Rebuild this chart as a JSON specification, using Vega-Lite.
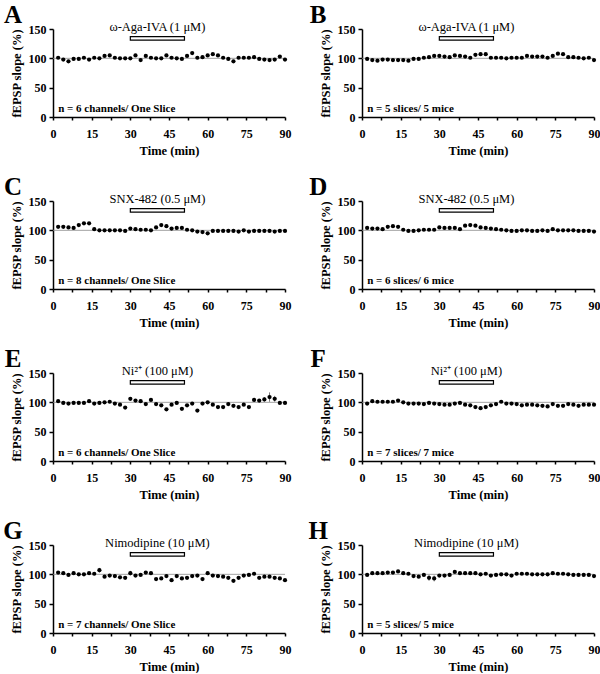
{
"$schema": "https://vega.github.io/schema/vega-lite/v6.json",
"padding": {"left": 3, "top": 2, "right": 5, "bottom": 0},
"background": "white",
"data": {"values": [
{"p":"A","L":"A","d":"ω-Aga-IVA (1 μM)","n":"n = 6 channels/ One Slice"},
{"p":"B","L":"B","d":"ω-Aga-IVA (1 μM)","n":"n = 5 slices/ 5 mice"},
{"p":"C","L":"C","d":"SNX-482 (0.5 μM)","n":"n = 8 channels/ One Slice"},
{"p":"D","L":"D","d":"SNX-482 (0.5 μM)","n":"n = 6 slices/ 6 mice"},
{"p":"E","L":"E","d":"Ni²⁺ (100 μM)","n":"n = 6 channels/ One Slice"},
{"p":"F","L":"F","d":"Ni²⁺ (100 μM)","n":"n = 7 slices/ 7 mice"},
{"p":"G","L":"G","d":"Nimodipine (10 μM)","n":"n = 7 channels/ One Slice"},
{"p":"H","L":"H","d":"Nimodipine (10 μM)","n":"n = 5 slices/ 5 mice"},
{"p":"E","t":84,"lo":101,"hi":117},{"p":"E","t":82,"lo":101,"hi":109},{"p":"E","t":86,"lo":101,"hi":111},
{"p":"H","t":26,"lo":89,"hi":99},{"p":"H","t":28,"lo":88,"hi":98},
{"p":"G","t":18,"lo":103,"hi":111},{"p":"G","t":30,"lo":98,"hi":106},
{"p":"A","t":2,"v":101},{"p":"A","t":4,"v":98},{"p":"A","t":6,"v":95},{"p":"A","t":8,"v":99},{"p":"A","t":10,"v":99},{"p":"A","t":12,"v":101},{"p":"A","t":14,"v":98},{"p":"A","t":16,"v":101},{"p":"A","t":18,"v":100},{"p":"A","t":20,"v":104},{"p":"A","t":22,"v":105},{"p":"A","t":24,"v":101},{"p":"A","t":26,"v":100},{"p":"A","t":28,"v":100},{"p":"A","t":30,"v":100},{"p":"A","t":32,"v":105},{"p":"A","t":34,"v":97},{"p":"A","t":36,"v":104},{"p":"A","t":38,"v":101},{"p":"A","t":40,"v":100},{"p":"A","t":42,"v":100},{"p":"A","t":44,"v":105},{"p":"A","t":46,"v":101},{"p":"A","t":48,"v":100},{"p":"A","t":50,"v":99},{"p":"A","t":52,"v":104},{"p":"A","t":54,"v":109},{"p":"A","t":56,"v":101},{"p":"A","t":58,"v":102},{"p":"A","t":60,"v":105},{"p":"A","t":62,"v":107},{"p":"A","t":64,"v":105},{"p":"A","t":66,"v":101},{"p":"A","t":68,"v":99},{"p":"A","t":70,"v":95},{"p":"A","t":72,"v":101},{"p":"A","t":74,"v":101},{"p":"A","t":76,"v":101},{"p":"A","t":78,"v":102},{"p":"A","t":80,"v":99},{"p":"A","t":82,"v":98},{"p":"A","t":84,"v":97},{"p":"A","t":86,"v":98},{"p":"A","t":88,"v":103},{"p":"A","t":90,"v":98},
{"p":"B","t":2,"v":99},{"p":"B","t":4,"v":97},{"p":"B","t":6,"v":96},{"p":"B","t":8,"v":98},{"p":"B","t":10,"v":98},{"p":"B","t":12,"v":97},{"p":"B","t":14,"v":97},{"p":"B","t":16,"v":97},{"p":"B","t":18,"v":96},{"p":"B","t":20,"v":99},{"p":"B","t":22,"v":99},{"p":"B","t":24,"v":101},{"p":"B","t":26,"v":102},{"p":"B","t":28,"v":104},{"p":"B","t":30,"v":104},{"p":"B","t":32,"v":103},{"p":"B","t":34,"v":102},{"p":"B","t":36,"v":105},{"p":"B","t":38,"v":104},{"p":"B","t":40,"v":103},{"p":"B","t":42,"v":101},{"p":"B","t":44,"v":106},{"p":"B","t":46,"v":107},{"p":"B","t":48,"v":107},{"p":"B","t":50,"v":101},{"p":"B","t":52,"v":101},{"p":"B","t":54,"v":101},{"p":"B","t":56,"v":100},{"p":"B","t":58,"v":101},{"p":"B","t":60,"v":101},{"p":"B","t":62,"v":101},{"p":"B","t":64,"v":104},{"p":"B","t":66,"v":103},{"p":"B","t":68,"v":103},{"p":"B","t":70,"v":103},{"p":"B","t":72,"v":101},{"p":"B","t":74,"v":104},{"p":"B","t":76,"v":108},{"p":"B","t":78,"v":107},{"p":"B","t":80,"v":102},{"p":"B","t":82,"v":102},{"p":"B","t":84,"v":101},{"p":"B","t":86,"v":100},{"p":"B","t":88,"v":101},{"p":"B","t":90,"v":97},
{"p":"C","t":2,"v":106},{"p":"C","t":4,"v":106},{"p":"C","t":6,"v":105},{"p":"C","t":8,"v":104},{"p":"C","t":10,"v":109},{"p":"C","t":12,"v":112},{"p":"C","t":14,"v":112},{"p":"C","t":16,"v":102},{"p":"C","t":18,"v":100},{"p":"C","t":20,"v":100},{"p":"C","t":22,"v":100},{"p":"C","t":24,"v":100},{"p":"C","t":26,"v":100},{"p":"C","t":28,"v":99},{"p":"C","t":30,"v":103},{"p":"C","t":32,"v":102},{"p":"C","t":34,"v":101},{"p":"C","t":36,"v":101},{"p":"C","t":38,"v":100},{"p":"C","t":40,"v":105},{"p":"C","t":42,"v":109},{"p":"C","t":44,"v":107},{"p":"C","t":46,"v":103},{"p":"C","t":48,"v":104},{"p":"C","t":50,"v":104},{"p":"C","t":52,"v":101},{"p":"C","t":54,"v":100},{"p":"C","t":56,"v":98},{"p":"C","t":58,"v":97},{"p":"C","t":60,"v":95},{"p":"C","t":62,"v":99},{"p":"C","t":64,"v":99},{"p":"C","t":66,"v":99},{"p":"C","t":68,"v":99},{"p":"C","t":70,"v":99},{"p":"C","t":72,"v":98},{"p":"C","t":74,"v":100},{"p":"C","t":76,"v":98},{"p":"C","t":78,"v":99},{"p":"C","t":80,"v":99},{"p":"C","t":82,"v":99},{"p":"C","t":84,"v":99},{"p":"C","t":86,"v":98},{"p":"C","t":88,"v":99},{"p":"C","t":90,"v":99},
{"p":"D","t":2,"v":104},{"p":"D","t":4,"v":103},{"p":"D","t":6,"v":103},{"p":"D","t":8,"v":102},{"p":"D","t":10,"v":106},{"p":"D","t":12,"v":107},{"p":"D","t":14,"v":106},{"p":"D","t":16,"v":101},{"p":"D","t":18,"v":99},{"p":"D","t":20,"v":99},{"p":"D","t":22,"v":100},{"p":"D","t":24,"v":101},{"p":"D","t":26,"v":101},{"p":"D","t":28,"v":101},{"p":"D","t":30,"v":105},{"p":"D","t":32,"v":104},{"p":"D","t":34,"v":104},{"p":"D","t":36,"v":104},{"p":"D","t":38,"v":102},{"p":"D","t":40,"v":108},{"p":"D","t":42,"v":109},{"p":"D","t":44,"v":108},{"p":"D","t":46,"v":105},{"p":"D","t":48,"v":104},{"p":"D","t":50,"v":103},{"p":"D","t":52,"v":102},{"p":"D","t":54,"v":101},{"p":"D","t":56,"v":100},{"p":"D","t":58,"v":99},{"p":"D","t":60,"v":99},{"p":"D","t":62,"v":100},{"p":"D","t":64,"v":100},{"p":"D","t":66,"v":99},{"p":"D","t":68,"v":99},{"p":"D","t":70,"v":100},{"p":"D","t":72,"v":99},{"p":"D","t":74,"v":102},{"p":"D","t":76,"v":100},{"p":"D","t":78,"v":100},{"p":"D","t":80,"v":100},{"p":"D","t":82,"v":100},{"p":"D","t":84,"v":99},{"p":"D","t":86,"v":99},{"p":"D","t":88,"v":99},{"p":"D","t":90,"v":98},
{"p":"E","t":2,"v":102},{"p":"E","t":4,"v":99},{"p":"E","t":6,"v":98},{"p":"E","t":8,"v":99},{"p":"E","t":10,"v":99},{"p":"E","t":12,"v":99},{"p":"E","t":14,"v":102},{"p":"E","t":16,"v":98},{"p":"E","t":18,"v":99},{"p":"E","t":20,"v":100},{"p":"E","t":22,"v":101},{"p":"E","t":24,"v":98},{"p":"E","t":26,"v":96},{"p":"E","t":28,"v":91},{"p":"E","t":30,"v":106},{"p":"E","t":32,"v":103},{"p":"E","t":34,"v":102},{"p":"E","t":36,"v":97},{"p":"E","t":38,"v":104},{"p":"E","t":40,"v":97},{"p":"E","t":42,"v":95},{"p":"E","t":44,"v":88},{"p":"E","t":46,"v":96},{"p":"E","t":48,"v":99},{"p":"E","t":50,"v":89},{"p":"E","t":52,"v":95},{"p":"E","t":54,"v":98},{"p":"E","t":56,"v":86},{"p":"E","t":58,"v":98},{"p":"E","t":60,"v":100},{"p":"E","t":62,"v":96},{"p":"E","t":64,"v":92},{"p":"E","t":66,"v":92},{"p":"E","t":68,"v":97},{"p":"E","t":70,"v":94},{"p":"E","t":72,"v":92},{"p":"E","t":74,"v":96},{"p":"E","t":76,"v":92},{"p":"E","t":78,"v":104},{"p":"E","t":80,"v":103},{"p":"E","t":82,"v":105},{"p":"E","t":84,"v":109},{"p":"E","t":86,"v":106},{"p":"E","t":88,"v":99},{"p":"E","t":90,"v":99},
{"p":"F","t":2,"v":98},{"p":"F","t":4,"v":102},{"p":"F","t":6,"v":101},{"p":"F","t":8,"v":101},{"p":"F","t":10,"v":101},{"p":"F","t":12,"v":101},{"p":"F","t":14,"v":103},{"p":"F","t":16,"v":100},{"p":"F","t":18,"v":98},{"p":"F","t":20,"v":98},{"p":"F","t":22,"v":98},{"p":"F","t":24,"v":97},{"p":"F","t":26,"v":99},{"p":"F","t":28,"v":98},{"p":"F","t":30,"v":97},{"p":"F","t":32,"v":96},{"p":"F","t":34,"v":96},{"p":"F","t":36,"v":98},{"p":"F","t":38,"v":99},{"p":"F","t":40,"v":96},{"p":"F","t":42,"v":95},{"p":"F","t":44,"v":92},{"p":"F","t":46,"v":90},{"p":"F","t":48,"v":92},{"p":"F","t":50,"v":95},{"p":"F","t":52,"v":97},{"p":"F","t":54,"v":101},{"p":"F","t":56,"v":98},{"p":"F","t":58,"v":98},{"p":"F","t":60,"v":97},{"p":"F","t":62,"v":95},{"p":"F","t":64,"v":96},{"p":"F","t":66,"v":96},{"p":"F","t":68,"v":95},{"p":"F","t":70,"v":94},{"p":"F","t":72,"v":93},{"p":"F","t":74,"v":97},{"p":"F","t":76,"v":94},{"p":"F","t":78,"v":94},{"p":"F","t":80,"v":97},{"p":"F","t":82,"v":96},{"p":"F","t":84,"v":94},{"p":"F","t":86,"v":96},{"p":"F","t":88,"v":96},{"p":"F","t":90,"v":96},
{"p":"G","t":2,"v":103},{"p":"G","t":4,"v":102},{"p":"G","t":6,"v":99},{"p":"G","t":8,"v":102},{"p":"G","t":10,"v":100},{"p":"G","t":12,"v":100},{"p":"G","t":14,"v":102},{"p":"G","t":16,"v":101},{"p":"G","t":18,"v":107},{"p":"G","t":20,"v":96},{"p":"G","t":22,"v":98},{"p":"G","t":24,"v":97},{"p":"G","t":26,"v":95},{"p":"G","t":28,"v":94},{"p":"G","t":30,"v":102},{"p":"G","t":32,"v":98},{"p":"G","t":34,"v":99},{"p":"G","t":36,"v":103},{"p":"G","t":38,"v":102},{"p":"G","t":40,"v":92},{"p":"G","t":42,"v":93},{"p":"G","t":44,"v":97},{"p":"G","t":46,"v":90},{"p":"G","t":48,"v":97},{"p":"G","t":50,"v":93},{"p":"G","t":52,"v":94},{"p":"G","t":54,"v":97},{"p":"G","t":56,"v":98},{"p":"G","t":58,"v":92},{"p":"G","t":60,"v":102},{"p":"G","t":62,"v":98},{"p":"G","t":64,"v":97},{"p":"G","t":66,"v":96},{"p":"G","t":68,"v":94},{"p":"G","t":70,"v":89},{"p":"G","t":72,"v":94},{"p":"G","t":74,"v":98},{"p":"G","t":76,"v":99},{"p":"G","t":78,"v":101},{"p":"G","t":80,"v":94},{"p":"G","t":82,"v":96},{"p":"G","t":84,"v":96},{"p":"G","t":86,"v":94},{"p":"G","t":88,"v":93},{"p":"G","t":90,"v":90},
{"p":"H","t":2,"v":99},{"p":"H","t":4,"v":102},{"p":"H","t":6,"v":102},{"p":"H","t":8,"v":102},{"p":"H","t":10,"v":103},{"p":"H","t":12,"v":103},{"p":"H","t":14,"v":105},{"p":"H","t":16,"v":102},{"p":"H","t":18,"v":101},{"p":"H","t":20,"v":97},{"p":"H","t":22,"v":96},{"p":"H","t":24,"v":99},{"p":"H","t":26,"v":94},{"p":"H","t":28,"v":93},{"p":"H","t":30,"v":98},{"p":"H","t":32,"v":98},{"p":"H","t":34,"v":99},{"p":"H","t":36,"v":104},{"p":"H","t":38,"v":102},{"p":"H","t":40,"v":102},{"p":"H","t":42,"v":102},{"p":"H","t":44,"v":102},{"p":"H","t":46,"v":100},{"p":"H","t":48,"v":101},{"p":"H","t":50,"v":98},{"p":"H","t":52,"v":99},{"p":"H","t":54,"v":100},{"p":"H","t":56,"v":100},{"p":"H","t":58,"v":98},{"p":"H","t":60,"v":101},{"p":"H","t":62,"v":101},{"p":"H","t":64,"v":101},{"p":"H","t":66,"v":100},{"p":"H","t":68,"v":100},{"p":"H","t":70,"v":100},{"p":"H","t":72,"v":100},{"p":"H","t":74,"v":102},{"p":"H","t":76,"v":101},{"p":"H","t":78,"v":101},{"p":"H","t":80,"v":100},{"p":"H","t":82,"v":99},{"p":"H","t":84,"v":99},{"p":"H","t":86,"v":99},{"p":"H","t":88,"v":99},{"p":"H","t":90,"v":97}
]},
"columns": 2,
"spacing": {"row": 84, "column": 77},
"bounds": "flush",
"concat": [
{"transform": [{"filter": "datum.p === 'A'"}], "width": 232, "height": 88,
 "encoding": {"x": {"type": "quantitative", "scale": {"domain": [0, 90], "nice": false}, "axis": {"title": "Time (min)", "values": [0,7.5,15,22.5,30,37.5,45,52.5,60,67.5,75,82.5,90], "labelExpr": "datum.value % 15 === 0 ? datum.label : ''", "tickSize": 3, "labelPadding": 8, "titlePadding": 5, "labelFlush": false}}, "y": {"type": "quantitative", "scale": {"domain": [0, 150], "nice": false}, "axis": {"title": "fEPSP slope (%)", "values": [0, 50, 100, 150], "tickSize": 4, "labelPadding": 3, "titlePadding": 5}}},
 "layer": [
  {"transform": [{"filter": "isValid(datum.L)"}], "mark": {"type": "rule", "color": "#8a8a8a", "strokeWidth": 0.8}, "encoding": {"y": {"datum": 100}}},
  {"transform": [{"filter": "isValid(datum.L)"}], "mark": {"type": "rect", "fill": "white", "stroke": "black", "strokeWidth": 1.2}, "encoding": {"x": {"datum": 30}, "x2": {"datum": 51}, "y": {"datum": 131}, "y2": {"datum": 137}}},
  {"transform": [{"filter": "isValid(datum.L)"}], "mark": {"type": "text", "font": "Liberation Serif", "fontSize": 12.5, "align": "center", "baseline": "alphabetic", "color": "black"}, "encoding": {"x": {"datum": 40.5}, "y": {"datum": 146}, "text": {"field": "d"}}},
  {"transform": [{"filter": "isValid(datum.L)"}], "mark": {"type": "text", "font": "Liberation Serif", "fontSize": 11, "fontWeight": "bold", "align": "left", "baseline": "alphabetic", "color": "black"}, "encoding": {"x": {"datum": 2}, "y": {"datum": 9}, "text": {"field": "n"}}},
  {"transform": [{"filter": "isValid(datum.L)"}], "mark": {"type": "text", "font": "Liberation Serif", "fontSize": 25, "fontWeight": "bold", "align": "center", "baseline": "alphabetic", "color": "black"}, "encoding": {"x": {"datum": -15.5}, "y": {"datum": 161}, "text": {"field": "L"}}},
  {"transform": [{"filter": "isValid(datum.hi)"}], "mark": {"type": "rule", "color": "#555", "strokeWidth": 0.8}, "encoding": {"x": {"field": "t"}, "y": {"field": "lo"}, "y2": {"field": "hi"}}},
  {"transform": [{"filter": "isValid(datum.v)"}], "mark": {"type": "point", "filled": true, "color": "black", "size": 18, "opacity": 1}, "encoding": {"x": {"field": "t"}, "y": {"field": "v"}}}
 ]},
{"transform": [{"filter": "datum.p === 'B'"}], "width": 232, "height": 88,
 "encoding": {"x": {"type": "quantitative", "scale": {"domain": [0, 90], "nice": false}, "axis": {"title": "Time (min)", "values": [0,7.5,15,22.5,30,37.5,45,52.5,60,67.5,75,82.5,90], "labelExpr": "datum.value % 15 === 0 ? datum.label : ''", "tickSize": 3, "labelPadding": 8, "titlePadding": 5, "labelFlush": false}}, "y": {"type": "quantitative", "scale": {"domain": [0, 150], "nice": false}, "axis": {"title": "fEPSP slope (%)", "values": [0, 50, 100, 150], "tickSize": 4, "labelPadding": 3, "titlePadding": 5}}},
 "layer": [
  {"transform": [{"filter": "isValid(datum.L)"}], "mark": {"type": "rule", "color": "#8a8a8a", "strokeWidth": 0.8}, "encoding": {"y": {"datum": 100}}},
  {"transform": [{"filter": "isValid(datum.L)"}], "mark": {"type": "rect", "fill": "white", "stroke": "black", "strokeWidth": 1.2}, "encoding": {"x": {"datum": 30}, "x2": {"datum": 51}, "y": {"datum": 131}, "y2": {"datum": 137}}},
  {"transform": [{"filter": "isValid(datum.L)"}], "mark": {"type": "text", "font": "Liberation Serif", "fontSize": 12.5, "align": "center", "baseline": "alphabetic", "color": "black"}, "encoding": {"x": {"datum": 40.5}, "y": {"datum": 146}, "text": {"field": "d"}}},
  {"transform": [{"filter": "isValid(datum.L)"}], "mark": {"type": "text", "font": "Liberation Serif", "fontSize": 11, "fontWeight": "bold", "align": "left", "baseline": "alphabetic", "color": "black"}, "encoding": {"x": {"datum": 2}, "y": {"datum": 9}, "text": {"field": "n"}}},
  {"transform": [{"filter": "isValid(datum.L)"}], "mark": {"type": "text", "font": "Liberation Serif", "fontSize": 25, "fontWeight": "bold", "align": "center", "baseline": "alphabetic", "color": "black"}, "encoding": {"x": {"datum": -17}, "y": {"datum": 161}, "text": {"field": "L"}}},
  {"transform": [{"filter": "isValid(datum.hi)"}], "mark": {"type": "rule", "color": "#555", "strokeWidth": 0.8}, "encoding": {"x": {"field": "t"}, "y": {"field": "lo"}, "y2": {"field": "hi"}}},
  {"transform": [{"filter": "isValid(datum.v)"}], "mark": {"type": "point", "filled": true, "color": "black", "size": 18, "opacity": 1}, "encoding": {"x": {"field": "t"}, "y": {"field": "v"}}}
 ]},
{"transform": [{"filter": "datum.p === 'C'"}], "width": 232, "height": 88,
 "encoding": {"x": {"type": "quantitative", "scale": {"domain": [0, 90], "nice": false}, "axis": {"title": "Time (min)", "values": [0,7.5,15,22.5,30,37.5,45,52.5,60,67.5,75,82.5,90], "labelExpr": "datum.value % 15 === 0 ? datum.label : ''", "tickSize": 3, "labelPadding": 8, "titlePadding": 5, "labelFlush": false}}, "y": {"type": "quantitative", "scale": {"domain": [0, 150], "nice": false}, "axis": {"title": "fEPSP slope (%)", "values": [0, 50, 100, 150], "tickSize": 4, "labelPadding": 3, "titlePadding": 5}}},
 "layer": [
  {"transform": [{"filter": "isValid(datum.L)"}], "mark": {"type": "rule", "color": "#8a8a8a", "strokeWidth": 0.8}, "encoding": {"y": {"datum": 100}}},
  {"transform": [{"filter": "isValid(datum.L)"}], "mark": {"type": "rect", "fill": "white", "stroke": "black", "strokeWidth": 1.2}, "encoding": {"x": {"datum": 30}, "x2": {"datum": 51}, "y": {"datum": 131}, "y2": {"datum": 137}}},
  {"transform": [{"filter": "isValid(datum.L)"}], "mark": {"type": "text", "font": "Liberation Serif", "fontSize": 12.5, "align": "center", "baseline": "alphabetic", "color": "black"}, "encoding": {"x": {"datum": 40.5}, "y": {"datum": 146}, "text": {"field": "d"}}},
  {"transform": [{"filter": "isValid(datum.L)"}], "mark": {"type": "text", "font": "Liberation Serif", "fontSize": 11, "fontWeight": "bold", "align": "left", "baseline": "alphabetic", "color": "black"}, "encoding": {"x": {"datum": 2}, "y": {"datum": 9}, "text": {"field": "n"}}},
  {"transform": [{"filter": "isValid(datum.L)"}], "mark": {"type": "text", "font": "Liberation Serif", "fontSize": 25, "fontWeight": "bold", "align": "center", "baseline": "alphabetic", "color": "black"}, "encoding": {"x": {"datum": -15.5}, "y": {"datum": 161}, "text": {"field": "L"}}},
  {"transform": [{"filter": "isValid(datum.hi)"}], "mark": {"type": "rule", "color": "#555", "strokeWidth": 0.8}, "encoding": {"x": {"field": "t"}, "y": {"field": "lo"}, "y2": {"field": "hi"}}},
  {"transform": [{"filter": "isValid(datum.v)"}], "mark": {"type": "point", "filled": true, "color": "black", "size": 18, "opacity": 1}, "encoding": {"x": {"field": "t"}, "y": {"field": "v"}}}
 ]},
{"transform": [{"filter": "datum.p === 'D'"}], "width": 232, "height": 88,
 "encoding": {"x": {"type": "quantitative", "scale": {"domain": [0, 90], "nice": false}, "axis": {"title": "Time (min)", "values": [0,7.5,15,22.5,30,37.5,45,52.5,60,67.5,75,82.5,90], "labelExpr": "datum.value % 15 === 0 ? datum.label : ''", "tickSize": 3, "labelPadding": 8, "titlePadding": 5, "labelFlush": false}}, "y": {"type": "quantitative", "scale": {"domain": [0, 150], "nice": false}, "axis": {"title": "fEPSP slope (%)", "values": [0, 50, 100, 150], "tickSize": 4, "labelPadding": 3, "titlePadding": 5}}},
 "layer": [
  {"transform": [{"filter": "isValid(datum.L)"}], "mark": {"type": "rule", "color": "#8a8a8a", "strokeWidth": 0.8}, "encoding": {"y": {"datum": 100}}},
  {"transform": [{"filter": "isValid(datum.L)"}], "mark": {"type": "rect", "fill": "white", "stroke": "black", "strokeWidth": 1.2}, "encoding": {"x": {"datum": 30}, "x2": {"datum": 51}, "y": {"datum": 131}, "y2": {"datum": 137}}},
  {"transform": [{"filter": "isValid(datum.L)"}], "mark": {"type": "text", "font": "Liberation Serif", "fontSize": 12.5, "align": "center", "baseline": "alphabetic", "color": "black"}, "encoding": {"x": {"datum": 40.5}, "y": {"datum": 146}, "text": {"field": "d"}}},
  {"transform": [{"filter": "isValid(datum.L)"}], "mark": {"type": "text", "font": "Liberation Serif", "fontSize": 11, "fontWeight": "bold", "align": "left", "baseline": "alphabetic", "color": "black"}, "encoding": {"x": {"datum": 2}, "y": {"datum": 9}, "text": {"field": "n"}}},
  {"transform": [{"filter": "isValid(datum.L)"}], "mark": {"type": "text", "font": "Liberation Serif", "fontSize": 25, "fontWeight": "bold", "align": "center", "baseline": "alphabetic", "color": "black"}, "encoding": {"x": {"datum": -17}, "y": {"datum": 161}, "text": {"field": "L"}}},
  {"transform": [{"filter": "isValid(datum.hi)"}], "mark": {"type": "rule", "color": "#555", "strokeWidth": 0.8}, "encoding": {"x": {"field": "t"}, "y": {"field": "lo"}, "y2": {"field": "hi"}}},
  {"transform": [{"filter": "isValid(datum.v)"}], "mark": {"type": "point", "filled": true, "color": "black", "size": 18, "opacity": 1}, "encoding": {"x": {"field": "t"}, "y": {"field": "v"}}}
 ]},
{"transform": [{"filter": "datum.p === 'E'"}], "width": 232, "height": 88,
 "encoding": {"x": {"type": "quantitative", "scale": {"domain": [0, 90], "nice": false}, "axis": {"title": "Time (min)", "values": [0,7.5,15,22.5,30,37.5,45,52.5,60,67.5,75,82.5,90], "labelExpr": "datum.value % 15 === 0 ? datum.label : ''", "tickSize": 3, "labelPadding": 8, "titlePadding": 5, "labelFlush": false}}, "y": {"type": "quantitative", "scale": {"domain": [0, 150], "nice": false}, "axis": {"title": "fEPSP slope (%)", "values": [0, 50, 100, 150], "tickSize": 4, "labelPadding": 3, "titlePadding": 5}}},
 "layer": [
  {"transform": [{"filter": "isValid(datum.L)"}], "mark": {"type": "rule", "color": "#8a8a8a", "strokeWidth": 0.8}, "encoding": {"y": {"datum": 100}}},
  {"transform": [{"filter": "isValid(datum.L)"}], "mark": {"type": "rect", "fill": "white", "stroke": "black", "strokeWidth": 1.2}, "encoding": {"x": {"datum": 30}, "x2": {"datum": 51}, "y": {"datum": 131}, "y2": {"datum": 137}}},
  {"transform": [{"filter": "isValid(datum.L)"}], "mark": {"type": "text", "font": "Liberation Serif", "fontSize": 12.5, "align": "center", "baseline": "alphabetic", "color": "black"}, "encoding": {"x": {"datum": 40.5}, "y": {"datum": 146}, "text": {"field": "d"}}},
  {"transform": [{"filter": "isValid(datum.L)"}], "mark": {"type": "text", "font": "Liberation Serif", "fontSize": 11, "fontWeight": "bold", "align": "left", "baseline": "alphabetic", "color": "black"}, "encoding": {"x": {"datum": 2}, "y": {"datum": 9}, "text": {"field": "n"}}},
  {"transform": [{"filter": "isValid(datum.L)"}], "mark": {"type": "text", "font": "Liberation Serif", "fontSize": 25, "fontWeight": "bold", "align": "center", "baseline": "alphabetic", "color": "black"}, "encoding": {"x": {"datum": -15.5}, "y": {"datum": 161}, "text": {"field": "L"}}},
  {"transform": [{"filter": "isValid(datum.hi)"}], "mark": {"type": "rule", "color": "#555", "strokeWidth": 0.8}, "encoding": {"x": {"field": "t"}, "y": {"field": "lo"}, "y2": {"field": "hi"}}},
  {"transform": [{"filter": "isValid(datum.v)"}], "mark": {"type": "point", "filled": true, "color": "black", "size": 18, "opacity": 1}, "encoding": {"x": {"field": "t"}, "y": {"field": "v"}}}
 ]},
{"transform": [{"filter": "datum.p === 'F'"}], "width": 232, "height": 88,
 "encoding": {"x": {"type": "quantitative", "scale": {"domain": [0, 90], "nice": false}, "axis": {"title": "Time (min)", "values": [0,7.5,15,22.5,30,37.5,45,52.5,60,67.5,75,82.5,90], "labelExpr": "datum.value % 15 === 0 ? datum.label : ''", "tickSize": 3, "labelPadding": 8, "titlePadding": 5, "labelFlush": false}}, "y": {"type": "quantitative", "scale": {"domain": [0, 150], "nice": false}, "axis": {"title": "fEPSP slope (%)", "values": [0, 50, 100, 150], "tickSize": 4, "labelPadding": 3, "titlePadding": 5}}},
 "layer": [
  {"transform": [{"filter": "isValid(datum.L)"}], "mark": {"type": "rule", "color": "#8a8a8a", "strokeWidth": 0.8}, "encoding": {"y": {"datum": 100}}},
  {"transform": [{"filter": "isValid(datum.L)"}], "mark": {"type": "rect", "fill": "white", "stroke": "black", "strokeWidth": 1.2}, "encoding": {"x": {"datum": 30}, "x2": {"datum": 51}, "y": {"datum": 131}, "y2": {"datum": 137}}},
  {"transform": [{"filter": "isValid(datum.L)"}], "mark": {"type": "text", "font": "Liberation Serif", "fontSize": 12.5, "align": "center", "baseline": "alphabetic", "color": "black"}, "encoding": {"x": {"datum": 40.5}, "y": {"datum": 146}, "text": {"field": "d"}}},
  {"transform": [{"filter": "isValid(datum.L)"}], "mark": {"type": "text", "font": "Liberation Serif", "fontSize": 11, "fontWeight": "bold", "align": "left", "baseline": "alphabetic", "color": "black"}, "encoding": {"x": {"datum": 2}, "y": {"datum": 9}, "text": {"field": "n"}}},
  {"transform": [{"filter": "isValid(datum.L)"}], "mark": {"type": "text", "font": "Liberation Serif", "fontSize": 25, "fontWeight": "bold", "align": "center", "baseline": "alphabetic", "color": "black"}, "encoding": {"x": {"datum": -17}, "y": {"datum": 161}, "text": {"field": "L"}}},
  {"transform": [{"filter": "isValid(datum.hi)"}], "mark": {"type": "rule", "color": "#555", "strokeWidth": 0.8}, "encoding": {"x": {"field": "t"}, "y": {"field": "lo"}, "y2": {"field": "hi"}}},
  {"transform": [{"filter": "isValid(datum.v)"}], "mark": {"type": "point", "filled": true, "color": "black", "size": 18, "opacity": 1}, "encoding": {"x": {"field": "t"}, "y": {"field": "v"}}}
 ]},
{"transform": [{"filter": "datum.p === 'G'"}], "width": 232, "height": 88,
 "encoding": {"x": {"type": "quantitative", "scale": {"domain": [0, 90], "nice": false}, "axis": {"title": "Time (min)", "values": [0,7.5,15,22.5,30,37.5,45,52.5,60,67.5,75,82.5,90], "labelExpr": "datum.value % 15 === 0 ? datum.label : ''", "tickSize": 3, "labelPadding": 8, "titlePadding": 5, "labelFlush": false}}, "y": {"type": "quantitative", "scale": {"domain": [0, 150], "nice": false}, "axis": {"title": "fEPSP slope (%)", "values": [0, 50, 100, 150], "tickSize": 4, "labelPadding": 3, "titlePadding": 5}}},
 "layer": [
  {"transform": [{"filter": "isValid(datum.L)"}], "mark": {"type": "rule", "color": "#8a8a8a", "strokeWidth": 0.8}, "encoding": {"y": {"datum": 100}}},
  {"transform": [{"filter": "isValid(datum.L)"}], "mark": {"type": "rect", "fill": "white", "stroke": "black", "strokeWidth": 1.2}, "encoding": {"x": {"datum": 30}, "x2": {"datum": 51}, "y": {"datum": 131}, "y2": {"datum": 137}}},
  {"transform": [{"filter": "isValid(datum.L)"}], "mark": {"type": "text", "font": "Liberation Serif", "fontSize": 12.5, "align": "center", "baseline": "alphabetic", "color": "black"}, "encoding": {"x": {"datum": 40.5}, "y": {"datum": 146}, "text": {"field": "d"}}},
  {"transform": [{"filter": "isValid(datum.L)"}], "mark": {"type": "text", "font": "Liberation Serif", "fontSize": 11, "fontWeight": "bold", "align": "left", "baseline": "alphabetic", "color": "black"}, "encoding": {"x": {"datum": 2}, "y": {"datum": 9}, "text": {"field": "n"}}},
  {"transform": [{"filter": "isValid(datum.L)"}], "mark": {"type": "text", "font": "Liberation Serif", "fontSize": 25, "fontWeight": "bold", "align": "center", "baseline": "alphabetic", "color": "black"}, "encoding": {"x": {"datum": -15.5}, "y": {"datum": 161}, "text": {"field": "L"}}},
  {"transform": [{"filter": "isValid(datum.hi)"}], "mark": {"type": "rule", "color": "#555", "strokeWidth": 0.8}, "encoding": {"x": {"field": "t"}, "y": {"field": "lo"}, "y2": {"field": "hi"}}},
  {"transform": [{"filter": "isValid(datum.v)"}], "mark": {"type": "point", "filled": true, "color": "black", "size": 18, "opacity": 1}, "encoding": {"x": {"field": "t"}, "y": {"field": "v"}}}
 ]},
{"transform": [{"filter": "datum.p === 'H'"}], "width": 232, "height": 88,
 "encoding": {"x": {"type": "quantitative", "scale": {"domain": [0, 90], "nice": false}, "axis": {"title": "Time (min)", "values": [0,7.5,15,22.5,30,37.5,45,52.5,60,67.5,75,82.5,90], "labelExpr": "datum.value % 15 === 0 ? datum.label : ''", "tickSize": 3, "labelPadding": 8, "titlePadding": 5, "labelFlush": false}}, "y": {"type": "quantitative", "scale": {"domain": [0, 150], "nice": false}, "axis": {"title": "fEPSP slope (%)", "values": [0, 50, 100, 150], "tickSize": 4, "labelPadding": 3, "titlePadding": 5}}},
 "layer": [
  {"transform": [{"filter": "isValid(datum.L)"}], "mark": {"type": "rule", "color": "#8a8a8a", "strokeWidth": 0.8}, "encoding": {"y": {"datum": 100}}},
  {"transform": [{"filter": "isValid(datum.L)"}], "mark": {"type": "rect", "fill": "white", "stroke": "black", "strokeWidth": 1.2}, "encoding": {"x": {"datum": 30}, "x2": {"datum": 51}, "y": {"datum": 131}, "y2": {"datum": 137}}},
  {"transform": [{"filter": "isValid(datum.L)"}], "mark": {"type": "text", "font": "Liberation Serif", "fontSize": 12.5, "align": "center", "baseline": "alphabetic", "color": "black"}, "encoding": {"x": {"datum": 40.5}, "y": {"datum": 146}, "text": {"field": "d"}}},
  {"transform": [{"filter": "isValid(datum.L)"}], "mark": {"type": "text", "font": "Liberation Serif", "fontSize": 11, "fontWeight": "bold", "align": "left", "baseline": "alphabetic", "color": "black"}, "encoding": {"x": {"datum": 2}, "y": {"datum": 9}, "text": {"field": "n"}}},
  {"transform": [{"filter": "isValid(datum.L)"}], "mark": {"type": "text", "font": "Liberation Serif", "fontSize": 25, "fontWeight": "bold", "align": "center", "baseline": "alphabetic", "color": "black"}, "encoding": {"x": {"datum": -17}, "y": {"datum": 161}, "text": {"field": "L"}}},
  {"transform": [{"filter": "isValid(datum.hi)"}], "mark": {"type": "rule", "color": "#555", "strokeWidth": 0.8}, "encoding": {"x": {"field": "t"}, "y": {"field": "lo"}, "y2": {"field": "hi"}}},
  {"transform": [{"filter": "isValid(datum.v)"}], "mark": {"type": "point", "filled": true, "color": "black", "size": 18, "opacity": 1}, "encoding": {"x": {"field": "t"}, "y": {"field": "v"}}}
 ]}
],
"config": {
  "view": {"stroke": null},
  "axis": {"grid": false, "domainColor": "black", "domainWidth": 1.5, "tickColor": "black", "tickWidth": 1.5,
    "labelFont": "Liberation Serif", "labelFontWeight": "bold", "labelFontSize": 12, "labelColor": "black",
    "titleFont": "Liberation Serif", "titleFontWeight": "bold", "titleFontSize": 12.5, "titleColor": "black"}
}
}
